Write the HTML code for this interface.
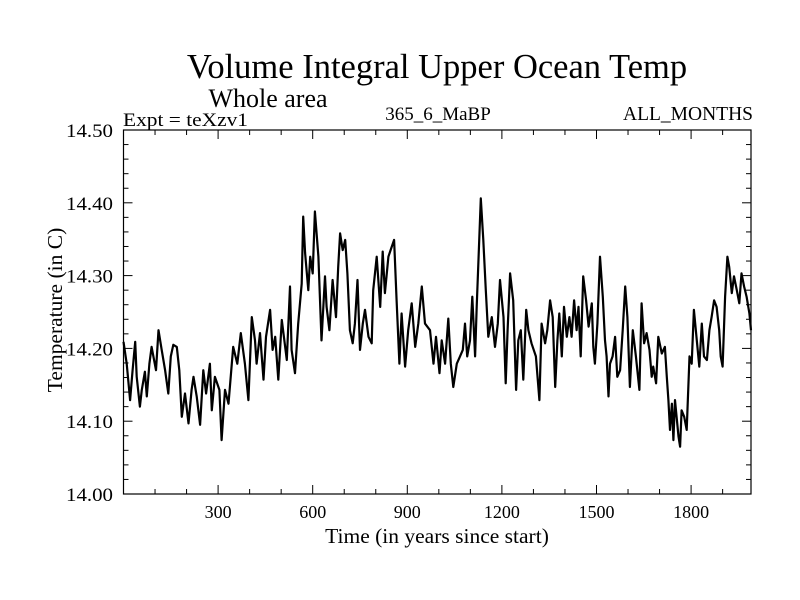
<!DOCTYPE html>
<html><head><meta charset="utf-8">
<style>
html,body{margin:0;padding:0;background:#fff;}
svg{display:block;font-family:"Liberation Serif",serif;}
</style></head>
<body>
<svg id="chart" width="800" height="600" viewBox="0 0 800 600" xmlns="http://www.w3.org/2000/svg">
<rect x="0" y="0" width="800" height="600" fill="#fff"/>
<text x="437" y="78" font-size="34.5" text-anchor="middle">Volume Integral Upper Ocean Temp</text>
<text x="268" y="107" font-size="26" text-anchor="middle">Whole area</text>
<text x="123" y="126" font-size="19" textLength="125" lengthAdjust="spacingAndGlyphs">Expt = teXzv1</text>
<text x="438" y="120" font-size="19" text-anchor="middle">365_6_MaBP</text>
<text x="753" y="120" font-size="19.5" text-anchor="end">ALL_MONTHS</text>
<text x="437" y="543" font-size="21.5" text-anchor="middle">Time (in years since start)</text>
<text x="0" y="0" font-size="21.5" text-anchor="middle" transform="translate(62,310) rotate(-90)">Temperature (in C)</text>
<g id="axes"></g>
<g id="series"></g>
</svg>
<script>
const years = [0,10,21,29,37,42,52,58,68,74,82,89,103,111,121,132,142,150,158,169,177,185,195,206,216,222,232,243,253,262,274,280,290,304,311,322,333,348,361,372,385,396,407,417,422,433,444,452,465,473,481,491,502,518,528,533,544,554,565,570,576,586,592,600,607,618,628,639,644,653,663,674,681,687,
695,703,710,718,727,734,742,750,759,766,777,787,792,803,814,822,829,840,847,858,866,875,882,893,903,914,925,935,946,956,972,983,991,1002,1009,1020,1030,1038,1046,1057,1067,1076,1083,1090,1099,1106,1115,1120,1126,1133,1141,1149,1157,1168,1178,1187,1194,1205,1212,1218,1226,1236,1245,1252,1260,1268,1277,1284,1294,1308,1319,1326,1337,1344,1353,
1361,1369,1376,1382,1390,1397,1406,1414,1421,1429,1437,1443,1450,1458,1467,1475,1485,1490,1495,1503,1511,1520,1527,1532,1538,1543,1551,1559,1566,1575,1583,1591,1598,1606,1615,1625,1636,1643,1651,1659,1668,1675,1680,1689,1696,1707,1717,1723,1728,1733,1739,1744,1749,1754,1760,1765,1770,1778,1786,1795,1802,1809,1818,1826,1834,1841,1850,1858,1865,1873,1881,1889,1894,1900,1908,1915,1921,1929,1936,1945,1953,1960,1968,1976,1985,1990];
const temps = [14.209,14.179,14.129,14.170,14.209,14.161,14.120,14.143,14.168,14.134,14.179,14.202,14.170,14.225,14.198,14.170,14.138,14.189,14.205,14.202,14.170,14.106,14.138,14.097,14.143,14.161,14.134,14.095,14.170,14.138,14.179,14.115,14.161,14.143,14.074,14.143,14.124,14.202,14.179,14.221,14.179,14.129,14.243,14.211,14.179,14.221,14.157,14.216,14.253,14.198,14.216,14.157,14.239,14.184,14.285,14.198,14.166,14.234,14.289,14.381,14.331,14.280,14.326,14.303,14.388,14.326,14.211,14.299,14.257,14.225,14.294,14.243,14.312,14.358,14.335,
14.349,14.303,14.225,14.207,14.234,14.294,14.198,14.234,14.253,14.216,14.207,14.280,14.326,14.257,14.333,14.276,14.326,14.335,14.349,14.266,14.179,14.248,14.175,14.225,14.262,14.202,14.234,14.285,14.234,14.225,14.179,14.216,14.166,14.211,14.179,14.241,14.179,14.147,14.179,14.189,14.198,14.234,14.189,14.211,14.271,14.189,14.257,14.326,14.406,14.349,14.280,14.216,14.243,14.202,14.234,14.294,14.243,14.152,14.225,14.303,14.266,14.143,14.211,14.225,14.157,14.253,14.225,14.207,14.189,14.129,14.234,14.207,14.225,14.266,14.243,
14.147,14.211,14.248,14.189,14.257,14.216,14.243,14.216,14.266,14.225,14.257,14.189,14.299,14.266,14.230,14.262,14.202,14.179,14.234,14.326,14.271,14.211,14.189,14.134,14.179,14.189,14.216,14.161,14.170,14.225,14.285,14.243,14.147,14.225,14.189,14.143,14.262,14.207,14.221,14.198,14.161,14.175,14.152,14.216,14.193,14.202,14.161,14.129,14.088,14.124,14.074,14.129,14.106,14.079,14.065,14.115,14.106,14.088,14.189,14.179,14.253,14.211,14.175,14.234,14.189,14.184,14.225,14.243,14.266,14.257,14.225,14.189,14.175,14.271,14.326,14.312,14.276,14.299,14.280,14.262,14.303,14.285,14.271,14.248,14.225,14.207];
const xTickValues = [300,600,900,1200,1500,1800];
const xTickLabels = ["300","600","900","1200","1500","1800"];
const yTickValues = [14.0,14.1,14.2,14.3,14.4,14.5];
const yTickLabels = ["14.00","14.10","14.20","14.30","14.40","14.50"];

const L=123.5,R=751,T=130,B=494;
const XMIN=0,XMAX=1990,YMIN=14.0,YMAX=14.5;
const xs=v=>L+(v-XMIN)/(XMAX-XMIN)*(R-L);
const ys=v=>B-(v-YMIN)/(YMAX-YMIN)*(B-T);
const NS="http://www.w3.org/2000/svg";
const axes=document.getElementById('axes');
const series=document.getElementById('series');
function mk(tag,attrs,parent){const e=document.createElementNS(NS,tag);for(const k in attrs)e.setAttribute(k,attrs[k]);parent.appendChild(e);return e;}

const frame=mk('rect',{x:L,y:T,width:R-L,height:B-T,fill:'none',stroke:'#000','stroke-width':1.2},axes);



for(let v=100;v<XMAX;v+=100){
  const x=xs(v);const major=v%300===0;const len=major?9:5;
  const t1=mk('line',{x1:x,y1:B,x2:x,y2:B-len,stroke:'#000','stroke-width':1},axes);
  
  
  const t2=mk('line',{x1:x,y1:T,x2:x,y2:T+len,stroke:'#000','stroke-width':1},axes);
  
  
}
xTickValues.forEach((v,i)=>{
  const t=mk('text',{x:xs(v),y:B+24,'font-size':18,'text-anchor':'middle'},axes);
  t.textContent=xTickLabels[i];
  
  
});
for(let k=1;k<25;k++){
  const v=YMIN+k*0.02;const y=ys(v);const major=k%5===0;const len=major?9:5;
  const t1=mk('line',{x1:L,y1:y,x2:L+len,y2:y,stroke:'#000','stroke-width':1},axes);
  
  
  const t2=mk('line',{x1:R,y1:y,x2:R-len,y2:y,stroke:'#000','stroke-width':1},axes);
  
  
}
yTickValues.forEach((v,i)=>{
  const t=mk('text',{x:113,y:ys(v)+7,'font-size':19,'text-anchor':'end',textLength:47,lengthAdjust:'spacingAndGlyphs'},axes);
  t.textContent=yTickLabels[i];
  
  
});

const d=years.map((yr,i)=>(i?'L':'M')+xs(yr).toFixed(1)+','+ys(temps[i]).toFixed(1)).join(' ');
const line=mk('path',{d:d,fill:'none',stroke:'#000','stroke-width':2.2,'stroke-linejoin':'round'},series);


</script>
</body></html>
